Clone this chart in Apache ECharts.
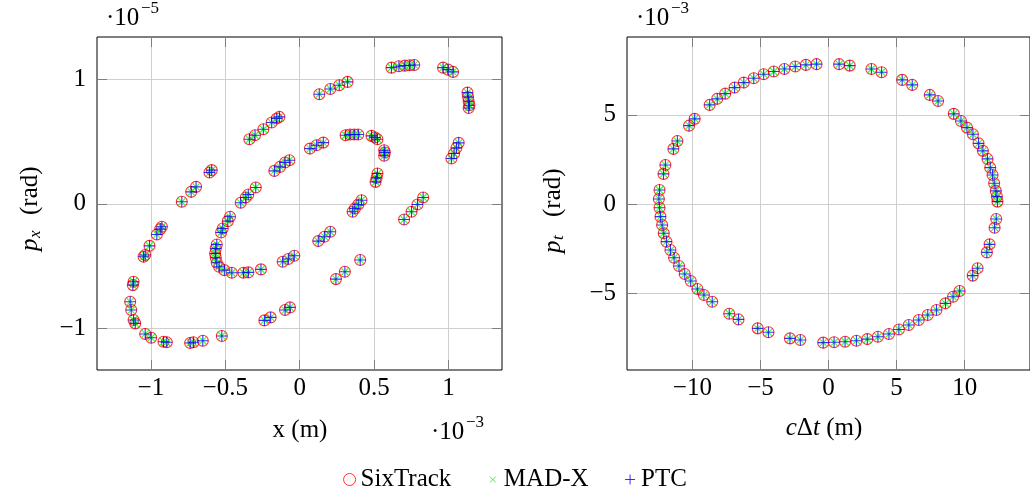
<!DOCTYPE html>
<html><head><meta charset="utf-8">
<script src="https://cdn.jsdelivr.net/npm/echarts@6/dist/echarts.min.js"></script>
<style>html,body{margin:0;padding:0;background:#fff}#c{width:1030px;height:496px}</style>
</head><body><div id="c"></div>
<script>
// ---- Data (left: x in 1e-3 m, px in 1e-5 rad; right: cΔt in m, pt in 1e-3 rad) ----
const leftX = [0.617,0.667,0.707,0.740,0.770, 0.964,0.998,1.031, 1.128,1.132,1.136,1.141,1.136,
  1.069,1.054,1.038,1.020, 0.830,0.792,0.752,0.702, 0.407,0.304,0.244, 0.206,0.166,0.125,
  -0.036,-0.076,-0.114, -0.065,-0.098,-0.195,-0.237, -0.523,-0.651,-0.714,-0.736,
  -0.893,-0.915,-0.998,-1.038,-1.105,-1.116,-1.132,-1.139, -1.116,-1.121, -1.049,-1.038,-1.009,
  -0.960,-0.937,-0.926, -0.792,-0.729,-0.696,-0.606,-0.591, -0.338,-0.300,-0.244,-0.188,-0.154,-0.136,
  0.132,0.206,0.266,0.322, -0.396,-0.362,-0.345,-0.295, -0.170,-0.132,-0.098,-0.069,
  0.069,0.114,0.159, 0.309,0.338,0.367,0.394, 0.483,0.506,0.523, 0.568,0.573,0.568,
  0.523,0.517,0.510, 0.416,0.394,0.371,0.356,
  -0.468,-0.483,-0.517,-0.528,-0.557,-0.564,-0.568,-0.564,-0.557,-0.541,-0.506,-0.456,-0.378,-0.345,-0.260];
const leftPx = [1.092,1.103,1.108,1.111,1.114, 1.092,1.076,1.058, 0.892,0.857,0.823,0.791,0.769,
  0.489,0.449,0.403,0.363, 0.051,-0.005,-0.064,-0.126, -0.451,-0.545,-0.604, -0.224,-0.264,-0.299,
  -0.417,-0.443,-0.465, -0.831,-0.852,-0.911,-0.935, -1.060,-1.098,-1.111,-1.116,
  -1.111,-1.106,-1.074,-1.044,-0.959,-0.932,-0.852,-0.785, -0.625,-0.652, -0.425,-0.411,-0.337,
  -0.246,-0.203,-0.184, 0.016,0.096,0.136,0.251,0.270, 0.518,0.550,0.598,0.652,0.684,0.697,
  0.879,0.921,0.951,0.978, 0.008,0.051,0.075,0.131, 0.264,0.296,0.331,0.350,
  0.443,0.470,0.491, 0.550,0.556,0.556,0.556, 0.545,0.532,0.518, 0.430,0.411,0.385,
  0.243,0.208,0.176, 0.029,-0.005,-0.037,-0.064,
  -0.104,-0.139,-0.198,-0.230,-0.326,-0.358,-0.398,-0.433,-0.473,-0.505,-0.532,-0.553,-0.553,-0.550,-0.526];
const rightCdt = [-8.73,-8.17,-7.59,-6.90,-6.22,-5.49,-4.76,-4.02,-3.24,-2.44,-1.66,-0.88,
  0.78,1.56,3.15,3.90,5.41,6.15,7.44,8.05,
  9.20,9.73,10.17,10.61,11.02,11.34,11.68,11.88,12.05,12.17,12.29,12.37,12.41,
  12.32,12.20,11.83,11.63,10.95,10.59,
  9.63,9.15,8.59,7.93,7.29,6.63,5.90,5.17,4.44,3.63,2.85,2.05,1.22,0.41,-0.39,
  -2.07,-2.83,-4.41,-5.20,-6.61,-7.29,
  -8.54,-9.15,-9.63,-10.12,-10.56,-10.98,-11.34,-11.61,-11.90,-12.10,-12.22,-12.34,-12.41,-12.46,-12.41,
  -12.12,-11.98,-11.39,-11.10,-10.24,-9.83];
const rightPt = [5.56,5.90,6.19,6.53,6.81,7.05,7.28,7.43,7.57,7.71,7.80,7.84,
  7.84,7.76,7.57,7.39,6.96,6.68,6.12,5.78,
  5.06,4.66,4.29,3.92,3.41,2.99,2.54,2.05,1.64,1.18,0.75,0.43,0.15,
  -0.82,-1.31,-2.24,-2.69,-3.58,-3.99,
  -4.85,-5.17,-5.54,-5.91,-6.19,-6.47,-6.75,-7.00,-7.26,-7.41,-7.54,-7.63,-7.69,-7.72,-7.74,
  -7.59,-7.50,-7.16,-6.94,-6.44,-6.12,
  -5.45,-5.07,-4.74,-4.29,-3.90,-3.45,-2.99,-2.56,-2.09,-1.62,-1.16,-0.69,-0.19,0.30,0.80,
  1.70,2.20,3.10,3.54,4.40,4.78];
const seriesNames = ['SixTrack','MAD-X','PTC'];
const ticksLeftX = [-1,-0.5,0,0.5,1];
const ticksLeftY = [-1,0,1];
const ticksRightX = [-10,-5,0,5,10];
const ticksRightY = [-5,0,5];

// ---- Build ----
const zip = (a,b) => a.map((v,i) => [v,b[i]]);
const leftData = zip(leftX, leftPx);
const rightData = zip(rightCdt, rightPt);
const FF = '"Liberation Serif", "DejaVu Serif", serif';
const FS = 25;
const minus = v => String(v).replace('-', '\u2212');

const CROSS = 'path://M0,0L10,10M10,0L0,10';
const PLUS = 'path://M5,0L5,10M0,5L10,5';
const marks = [
  {symbol:'circle', symbolSize:11, itemStyle:{color:'rgba(0,0,0,0)', borderColor:'#ff0000', borderWidth:1.1}},
  {symbol:CROSS, symbolSize:7, itemStyle:{color:'none', borderColor:'#00ff00', borderWidth:1.1}},
  {symbol:PLUS, symbolSize:11, itemStyle:{color:'none', borderColor:'#0000ff', borderWidth:1.1}}
];

function mkAxis(gridIndex, pos, min, max, ticks, labels) {
  return {
    type:'value', gridIndex, position:pos, min, max,
    axisLine:{show:false, onZero:false},
    axisTick:{show:true, inside:true, length:10, customValues:ticks, lineStyle:{color:'#808080', width:1}},
    splitLine:{show:labels, lineStyle:{color:'#cfcfcf', width:1}},
    axisLabel:{show:labels, customValues:ticks, formatter:minus, color:'#000',
      fontFamily:FF, fontSize:FS, margin: (pos==='bottom'||pos==='top') ? 6 : 11}
  };
}

const xAxis = [
  mkAxis(0,'bottom',-1.362,1.360,ticksLeftX,true),
  mkAxis(0,'top',-1.362,1.360,ticksLeftX,false),
  mkAxis(1,'bottom',-14.8,14.8,ticksRightX,true),
  mkAxis(1,'top',-14.8,14.8,ticksRightX,false)
];
const yAxis = [
  mkAxis(0,'left',-1.333,1.338,ticksLeftY,true),
  mkAxis(0,'right',-1.333,1.338,ticksLeftY,false),
  mkAxis(1,'left',-9.27,9.36,ticksRightY,true),
  mkAxis(1,'right',-9.27,9.36,ticksRightY,false)
];

const series = [];
[[leftData,0],[rightData,2]].forEach(([data,ai]) => {
  seriesNames.forEach((name,k) => {
    series.push(Object.assign({type:'scatter', name, data, xAxisIndex:ai, yAxisIndex:ai,
      emphasis:{disabled:true}, silent:true, z:2+k}, marks[k]));
  });
});

function t(x,y,text,size,italic,align) {
  return {type:'text', x, y, style:{text, font:(italic?'italic ':'')+size+'px '+FF, fill:'#000',
    align:align||'left', verticalAlign:'middle', textAlign:align||'left', textVerticalAlign:'middle'}};
}

const graphic = [
  // multipliers
  t(106,18,'\u00b710',FS,false), t(141,9,'\u22125',17,false),
  t(636,18,'\u00b710',FS,false), t(671,9,'\u22123',17,false),
  t(431,432,'\u00b710',FS,false), t(466,423,'\u22123',17,false),
  // axis titles
  t(300,430,'x (m)',FS,false,'center'),
  {type:'text', x:824, y:428, style:{text:'{i|c}{n|\u0394}{i|t}{n| (m)}', align:'center', verticalAlign:'middle',
    textAlign:'center', textVerticalAlign:'middle', fill:'#000',
    rich:{i:{fontFamily:FF, fontSize:FS, fontStyle:'italic'}, n:{fontFamily:FF, fontSize:FS}}}},
  {type:'group', x:30, y:251, rotation:Math.PI/2, children:[
    t(0,0,'p',FS,true), t(13,6,'x',17,true), t(36,0,'(rad)',FS,false)]},
  {type:'group', x:553, y:253, rotation:Math.PI/2, children:[
    t(0,0,'p',FS,true), t(13,6,'t',17,true), t(36,0,'(rad)',FS,false)]}
];

const chart = echarts.init(document.getElementById('c'), null, {renderer:'canvas'});
chart.setOption({
  animation:false,
  backgroundColor:'#fff',
  grid:[
    {left:97, top:37, width:405, height:333, show:true, borderColor:'#000', borderWidth:1, backgroundColor:'rgba(0,0,0,0)'},
    {left:627, top:37, width:405, height:333, show:true, borderColor:'#000', borderWidth:1, backgroundColor:'rgba(0,0,0,0)'}
  ],
  xAxis, yAxis, series, graphic,
  legend:{
    left:'center', top:462, itemGap:33, itemWidth:12, itemHeight:12, selectedMode:false,
    textStyle:{fontFamily:FF, fontSize:FS, color:'#000'},
    data:[
      {name:'SixTrack', icon:'circle', itemStyle:{color:'rgba(0,0,0,0)', borderColor:'#ff0000', borderWidth:1}},
      {name:'MAD-X', icon:'path://M0,0M12,12M3,3L9,9M9,3L3,9', itemStyle:{color:'none', borderColor:'#00ff00', borderWidth:1}},
      {name:'PTC', icon:'path://M0,0M12,12M6,1L6,11M1,6L11,6', itemStyle:{color:'none', borderColor:'#0000ff', borderWidth:1}}
    ]
  }
});
</script></body></html>
